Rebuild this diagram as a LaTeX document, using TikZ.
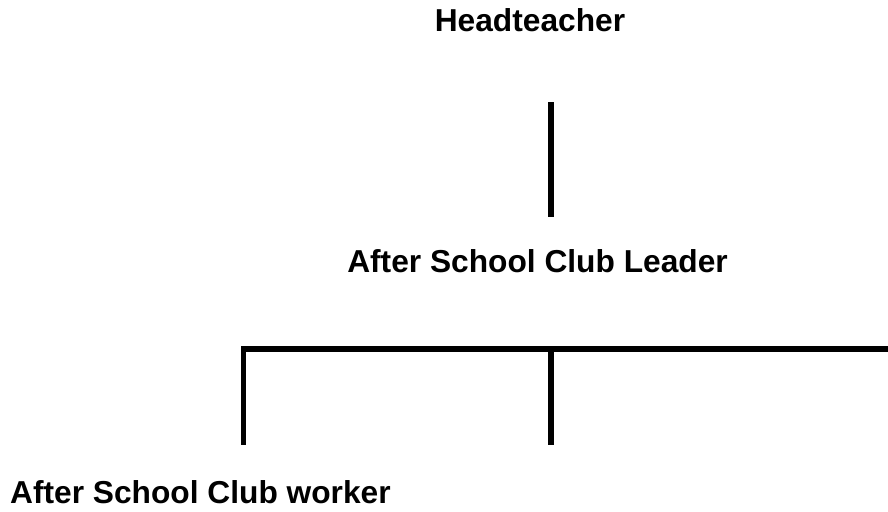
\documentclass[tikz,border=0pt]{standalone}
\usepackage{fontspec}
\setmainfont{Liberation Sans}
\usetikzlibrary{positioning, calc}
\tikzset{post/.style={font=\bfseries\fontsize{31.7}{36}\selectfont, inner sep=0pt},
    bar/.style={draw, line width=5.5pt, line cap=butt}}

\begin{document}
\begin{tikzpicture}[x=1pt, y=-1pt]
  \useasboundingbox (0,0) rectangle (888,511);

  % Posts
  \node[post, anchor=base] (head) at (530,32) {Headteacher};
  \node[post, anchor=base] (leader) at (537.5,272) {After School Club Leader};
  \node[post, anchor=base west] (worker) at (10,503) {After School Club worker};

  % Line ends
  \coordinate (h1) at (551,102);
  \coordinate (h2) at (551,217);
  \coordinate (t1) at (241,349);
  \coordinate (t2) at (888,349);
  \coordinate (a1) at (243.5,349);
  \coordinate (a2) at (243.5,445);
  \coordinate (b1) at (551,349);
  \coordinate (b2) at (551,445);

  % Lines
  \draw[bar] (h1) -- (h2);
  \draw[bar] (t1) -- (t2);
  \draw[bar] (a1) -- (a2);
  \draw[bar] (b1) -- (b2);
\end{tikzpicture}
\end{document}
